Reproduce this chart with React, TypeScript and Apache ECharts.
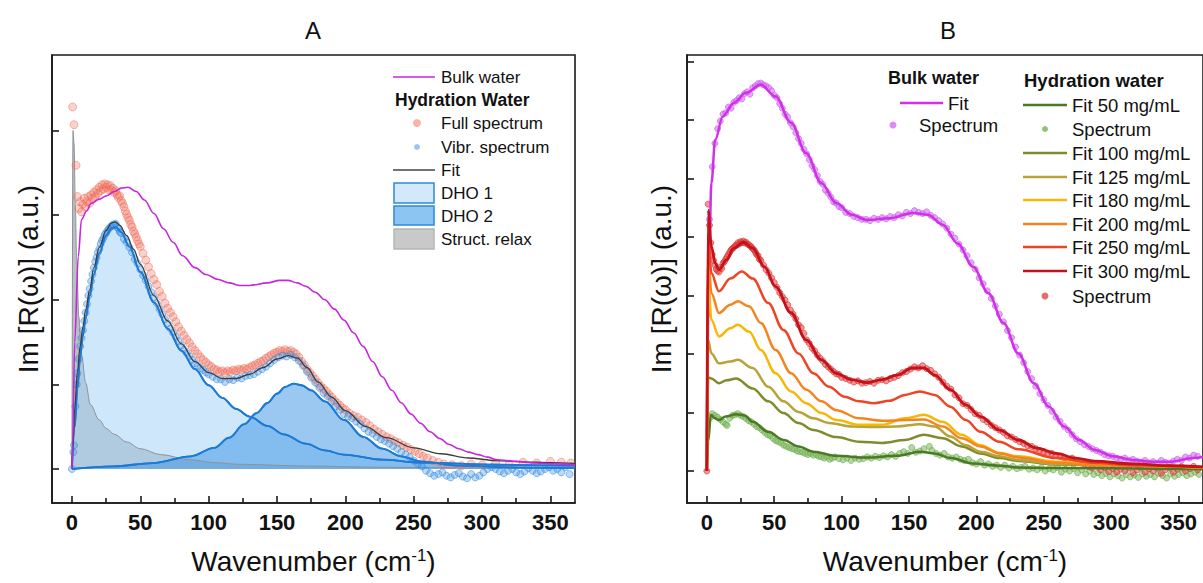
import React, { useEffect, useRef } from "react";
import * as echarts from "echarts";

const FONT = '"Liberation Sans", Arial, Helvetica, sans-serif';

// ---------- tick values ----------
const xTicks = [0, 50, 100, 150, 200, 250, 300, 350];
const xMinorTicks = [25, 75, 125, 175, 225, 275, 325];
const yTicksA = [0, 1, 2, 3, 4];
const yTicksB = [0, 1, 2, 3, 4, 5, 6, 7];

// ---------- Panel A ----------
const aBulkWater = [[0,0],[0.5,0.3],[2,1.5],[4.6,2.51],[7,2.95],[10.7,3.05],[14,3.14],[20,3.19],[25.4,3.23],[31,3.28],[36,3.32],[41,3.33],[47,3.28],[53,3.18],[60,3.02],[67,2.84],[74,2.68],[81,2.52],[90,2.38],[98,2.3],[107,2.24],[115,2.2],[123,2.17],[130,2.17],[143,2.2],[152,2.23],[158,2.23],[165,2.2],[171,2.16],[178,2.09],[185,2.0],[192,1.89],[199,1.76],[206,1.61],[213,1.45],[220,1.27],[227,1.09],[234,0.93],[241,0.78],[248,0.65],[255,0.54],[262,0.44],[269,0.36],[276,0.29],[283,0.24],[290,0.2],[297,0.17],[304,0.14],[311,0.11],[325,0.09],[339,0.07],[353,0.06],[368,0.05]];

const aFullSpectrum = [[0.5,4.28],[1.5,4.07],[3,3.59],[4,3.22],[5,3.08],[6,3.16],[7,3.04],[8,3.13],[9,3.2],[10,3.1],[11,3.16],[12,3.22],[13,3.14],[14,3.24],[15,3.2],[16,3.27],[17,3.22],[18,3.3],[19,3.26],[20,3.33],[21,3.29],[22,3.36],[23,3.31],[24,3.37],[25,3.33],[26,3.36],[27,3.3],[28,3.35],[29,3.3],[30,3.32],[31,3.27],[32,3.29],[33,3.24],[34,3.21],[35,3.23],[36,3.17],[37,3.14],[38,3.1],[39,3.05],[40,3.01],[41,2.97],[42,2.94],[43,2.89],[44,2.86],[45,2.81],[46,2.78],[47,2.74],[48,2.7],[49,2.66],[50,2.63],[52,2.55],[54,2.47],[56,2.39],[58,2.31],[60,2.24],[62,2.18],[64,2.1],[66,2.04],[68,1.96],[70,1.9],[72,1.85],[74,1.8],[76,1.74],[78,1.68],[80,1.63],[82,1.58],[84,1.53],[86,1.49],[88,1.44],[90,1.4],[92,1.36],[94,1.32],[96,1.29],[98,1.26],[100,1.23],[102,1.21],[104,1.18],[106,1.17],[108,1.15],[110,1.16],[112,1.14],[114,1.16],[116,1.15],[118,1.17],[120,1.16],[122,1.18],[124,1.17],[126,1.19],[128,1.18],[130,1.2],[132,1.22],[134,1.23],[136,1.25],[138,1.27],[140,1.28],[142,1.31],[144,1.33],[146,1.35],[148,1.37],[150,1.38],[152,1.4],[154,1.39],[156,1.41],[158,1.39],[160,1.4],[162,1.38],[164,1.36],[166,1.32],[168,1.27],[170,1.23],[172,1.18],[174,1.14],[176,1.1],[178,1.06],[180,1.02],[182,0.98],[184,0.95],[186,0.92],[188,0.88],[190,0.85],[192,0.81],[194,0.78],[196,0.75],[198,0.72],[200,0.7],[203,0.66],[206,0.63],[209,0.61],[212,0.58],[215,0.55],[218,0.51],[221,0.47],[224,0.44],[227,0.41],[230,0.38],[233,0.36],[236,0.33],[239,0.31],[242,0.28],[245,0.26],[248,0.23],[251,0.21],[254,0.18],[257,0.15],[260,0.13],[264,0.1],[268,0.08],[272,0.06],[278,0.05],[285,0.04],[292,0.06],[300,0.05],[310,0.07],[320,0.06],[330,0.08],[340,0.07],[350,0.09],[358,0.08],[365,0.07]];

const aVibrSpectrum = [[0,0],[1,0.2],[1.5,0.28],[2.5,0.74],[3.5,1.0],[4,1.13],[5,1.3],[6,1.45],[7,1.55],[8,1.64],[9,1.75],[10,1.85],[11,1.95],[12,2.05],[13,2.13],[14,2.22],[15,2.3],[16,2.38],[17,2.45],[18,2.5],[19,2.56],[20,2.6],[21,2.66],[22,2.7],[23,2.73],[24,2.77],[25,2.79],[26,2.82],[27,2.84],[28,2.86],[29,2.87],[30,2.89],[31,2.88],[32,2.9],[33,2.86],[34,2.84],[35,2.8],[36,2.79],[38,2.72],[40,2.68],[42,2.62],[44,2.56],[46,2.48],[48,2.43],[50,2.36],[52,2.29],[54,2.23],[56,2.16],[58,2.09],[60,2.03],[62,1.96],[64,1.89],[66,1.83],[68,1.77],[70,1.72],[72,1.66],[74,1.61],[76,1.56],[78,1.51],[80,1.46],[82,1.41],[84,1.37],[86,1.33],[88,1.29],[90,1.25],[92,1.22],[94,1.19],[96,1.17],[98,1.14],[100,1.12],[103,1.09],[106,1.06],[109,1.06],[112,1.03],[115,1.06],[118,1.05],[121,1.08],[124,1.07],[127,1.1],[130,1.11],[133,1.12],[136,1.15],[139,1.18],[142,1.21],[145,1.25],[148,1.29],[151,1.32],[154,1.34],[157,1.33],[160,1.35],[163,1.32],[166,1.28],[169,1.22],[172,1.15],[175,1.08],[178,1.02],[181,0.96],[184,0.9],[187,0.86],[190,0.8],[193,0.74],[196,0.7],[199,0.65],[202,0.62],[205,0.6],[208,0.56],[211,0.53],[214,0.48],[217,0.44],[220,0.42],[223,0.38],[226,0.35],[229,0.33],[232,0.3],[235,0.27],[238,0.24],[241,0.2],[244,0.17],[247,0.14],[250,0.1],[253,0.06],[256,0.03],[259,-0.02],[262,-0.05],[265,-0.08],[268,-0.06],[271,-0.04],[274,-0.08],[277,-0.1],[280,-0.07],[283,-0.05],[286,-0.09],[289,-0.11],[292,-0.06],[295,-0.1],[298,-0.08],[301,-0.04],[304,0.0],[307,0.02],[310,0.0],[313,-0.03],[316,-0.05],[319,-0.02],[322,0.0],[325,-0.04],[328,-0.06],[331,-0.03],[334,0.01],[337,-0.02],[340,-0.05],[343,-0.03],[346,0.0],[349,0.02],[352,-0.02],[355,0.0],[358,-0.04],[361,0.02],[364,-0.06]];

const aFit = [[0,0],[1,0.35],[2,0.72],[4,1.15],[6,1.45],[8,1.68],[10,1.88],[13,2.12],[16,2.38],[20,2.62],[25,2.82],[29,2.91],[32,2.92],[35,2.88],[40,2.76],[45,2.6],[50,2.42],[60,2.05],[70,1.75],[80,1.48],[90,1.27],[100,1.14],[110,1.07],[120,1.07],[130,1.12],[140,1.2],[150,1.3],[158,1.34],[165,1.31],[172,1.2],[180,1.03],[190,0.85],[200,0.69],[215,0.5],[230,0.37],[250,0.25],[270,0.18],[290,0.13],[310,0.1],[330,0.085],[350,0.075],[368,0.065]];

const aDHO1 = [[0,0],[2,0.5],[4,0.95],[6,1.32],[8,1.58],[10,1.78],[13,2.05],[16,2.3],[20,2.55],[25,2.76],[29,2.85],[32,2.86],[36,2.8],[42,2.63],[50,2.33],[60,1.97],[70,1.66],[80,1.4],[90,1.18],[100,0.99],[110,0.84],[120,0.71],[130,0.62],[143,0.51],[155,0.41],[171,0.3],[185,0.22],[199,0.17],[227,0.11],[255,0.075],[311,0.05],[368,0.04]];

const aDHO2 = [[0,0],[30,0.03],[59,0.07],[87,0.15],[104,0.25],[115,0.37],[126,0.53],[135,0.66],[143,0.78],[150,0.89],[156,0.97],[162,1.01],[168,0.99],[175,0.93],[185,0.8],[199,0.58],[213,0.38],[227,0.24],[241,0.15],[255,0.09],[283,0.04],[320,0.02],[368,0.01]];

const aStructRelax = [[0,0],[0.8,4.0],[1.5,3.85],[2.5,3.1],[3.4,2.5],[5,1.8],[7,1.35],[10,1.02],[13.5,0.76],[20,0.58],[25,0.48],[31,0.41],[40,0.32],[50,0.24],[65,0.17],[86,0.11],[105,0.075],[123,0.055],[171,0.035],[227,0.02],[300,0.012],[368,0.01]];

// ---------- Panel B ----------
const bBulkFit = [[0,0],[1,2.6],[3.4,4.92],[6.2,5.66],[11.8,6.06],[20,6.29],[28.7,6.46],[40,6.6],[51,6.4],[62.5,5.95],[73.7,5.43],[85,4.92],[96,4.58],[107.5,4.38],[118.7,4.29],[135.6,4.32],[152.5,4.41],[163.8,4.38],[175,4.21],[186,3.89],[197.5,3.49],[208.8,3.04],[220,2.53],[231,2.01],[242.5,1.5],[253.8,1.1],[265,0.76],[276,0.53],[287.6,0.36],[301.6,0.25],[315.7,0.19],[329.8,0.16],[344,0.16],[361,0.22],[368,0.24]];

const bBulkSpectrum = [[2,4.3],[4,5.2],[6,5.6],[8,5.85],[10,5.98],[12,6.1],[14,6.12],[16,6.22],[18,6.2],[20,6.3],[22,6.33],[24,6.38],[26,6.36],[28,6.45],[30,6.48],[32,6.44],[34,6.55],[36,6.58],[38,6.62],[40,6.63],[42,6.6],[44,6.58],[46,6.55],[48,6.5],[50,6.42],[52,6.38],[54,6.28],[56,6.2],[58,6.1],[60,6.05],[62,5.95],[64,5.88],[66,5.78],[68,5.68],[70,5.6],[72,5.5],[74,5.42],[76,5.32],[78,5.22],[80,5.15],[82,5.05],[84,4.95],[86,4.9],[88,4.8],[90,4.75],[92,4.68],[94,4.6],[96,4.58],[98,4.52],[100,4.5],[103,4.42],[106,4.4],[109,4.35],[112,4.33],[115,4.3],[118,4.3],[121,4.28],[124,4.32],[127,4.3],[130,4.33],[133,4.31],[136,4.35],[139,4.33],[142,4.38],[145,4.36],[148,4.42],[151,4.4],[154,4.45],[157,4.42],[160,4.4],[163,4.43],[166,4.37],[169,4.33],[172,4.28],[175,4.22],[178,4.15],[181,4.05],[184,3.98],[187,3.88],[190,3.78],[193,3.68],[196,3.56],[199,3.45],[202,3.3],[205,3.2],[208,3.08],[211,2.95],[214,2.82],[217,2.68],[220,2.55],[223,2.4],[226,2.28],[229,2.12],[232,1.98],[235,1.85],[238,1.7],[241,1.58],[244,1.45],[247,1.32],[250,1.22],[253,1.12],[256,1.02],[259,0.92],[262,0.85],[265,0.76],[268,0.7],[271,0.62],[274,0.55],[277,0.5],[280,0.45],[283,0.42],[286,0.38],[289,0.35],[292,0.32],[295,0.28],[298,0.26],[301,0.25],[304,0.22],[307,0.2],[310,0.22],[313,0.18],[316,0.2],[319,0.17],[322,0.15],[325,0.18],[328,0.14],[331,0.16],[334,0.13],[337,0.18],[340,0.15],[343,0.12],[346,0.17],[349,0.2],[352,0.18],[355,0.24],[358,0.22],[361,0.27],[364,0.25]];

const bFit50 = [[0,0],[1,0.5],[3,0.96],[6,0.9],[9,0.87],[14,0.93],[21.7,0.97],[28,0.95],[34,0.84],[45.6,0.67],[57,0.53],[68,0.42],[79,0.33],[96,0.26],[118,0.23],[141,0.26],[158,0.33],[169,0.3],[181,0.22],[197,0.13],[217,0.09],[231,0.06],[259,0.05],[368,0.03]];
const bFit100 = [[0,0],[1,1.6],[3.4,1.58],[9,1.5],[14.6,1.55],[21.7,1.58],[34,1.41],[45.6,1.19],[56.8,0.99],[68,0.82],[79,0.7],[96,0.58],[113,0.5],[130,0.48],[147,0.53],[161,0.62],[175,0.56],[189,0.42],[203,0.3],[217,0.22],[231,0.17],[259,0.11],[368,0.06]];
const bFit125 = [[0,0],[1,2.24],[3.4,2.01],[9,1.84],[17.4,1.87],[23,1.9],[34,1.76],[45.6,1.44],[56.8,1.19],[68,1.01],[79,0.9],[90.6,0.82],[107.5,0.76],[124,0.75],[141,0.76],[158,0.8],[169,0.76],[180.6,0.59],[192,0.44],[203,0.33],[217,0.25],[231,0.19],[259,0.12],[368,0.06]];
const bFit180 = [[0,0],[1,3.27],[3.4,2.58],[9,2.3],[17.4,2.44],[23,2.5],[31.5,2.38],[40,2.07],[51,1.67],[62.5,1.36],[73.7,1.16],[85,0.99],[96,0.87],[113,0.79],[130,0.79],[147,0.9],[161,0.96],[175,0.84],[189,0.62],[203,0.44],[217,0.31],[231,0.25],[259,0.16],[287.6,0.11],[368,0.06]];
const bFit200 = [[0,0],[1,3.72],[3.4,3.04],[9,2.7],[17.4,2.84],[23,2.9],[31.5,2.81],[40,2.53],[51,2.07],[62.5,1.67],[73.7,1.39],[85,1.19],[96,1.04],[113,0.9],[130,0.86],[147,0.87],[161,0.88],[175,0.76],[189,0.56],[203,0.42],[217,0.3],[231,0.23],[259,0.14],[287.6,0.1],[368,0.06]];
const bFit250 = [[0,0],[1,4.06],[3.4,3.38],[9,3.07],[17.4,3.29],[26,3.41],[34,3.29],[45.6,2.87],[56.8,2.41],[68,2.01],[79,1.67],[90.6,1.44],[102,1.27],[113,1.19],[124,1.16],[135.6,1.2],[147,1.3],[158,1.36],[169,1.3],[180.6,1.1],[192,0.87],[203,0.67],[217,0.5],[231,0.37],[259,0.22],[287.6,0.14],[315.7,0.1],[368,0.07]];
const bFit300 = [[0,0],[1,4.46],[3.4,3.84],[6.2,3.55],[9,3.44],[14.6,3.61],[20,3.81],[27.3,3.91],[34,3.81],[42.8,3.49],[51,3.15],[62.5,2.7],[73.7,2.24],[85,1.9],[96,1.67],[107.5,1.56],[118.7,1.51],[130,1.56],[141,1.64],[152.5,1.76],[161,1.76],[169,1.64],[180.6,1.39],[192,1.13],[203,0.93],[217,0.7],[231,0.53],[245,0.39],[259,0.3],[273.5,0.22],[287.6,0.17],[315.7,0.12],[344,0.09],[368,0.07]];

const bSpectrum50 = [[2,0.9],[4,0.98],[6,0.95],[8,0.92],[10,0.88],[12,0.84],[14,0.8],[15,0.78],[17,0.9],[19,0.95],[21,0.96],[23,0.98],[25,0.95],[27,0.93],[29,0.9],[31,0.86],[33,0.84],[35,0.8],[37,0.76],[39,0.74],[41,0.7],[43,0.66],[45,0.62],[47,0.6],[49,0.56],[51,0.52],[53,0.5],[55,0.48],[57,0.44],[59,0.42],[61,0.4],[63,0.38],[65,0.37],[67,0.34],[69,0.33],[71,0.32],[73,0.3],[75,0.28],[77,0.3],[79,0.27],[81,0.28],[83,0.25],[85,0.24],[87,0.22],[89,0.24],[91,0.2],[93,0.22],[95,0.24],[98,0.21],[101,0.19],[104,0.22],[107,0.18],[110,0.22],[113,0.2],[116,0.21],[119,0.24],[122,0.22],[125,0.25],[128,0.23],[131,0.26],[134,0.24],[137,0.28],[140,0.25],[143,0.3],[146,0.33],[149,0.3],[152,0.4],[155,0.32],[158,0.34],[161,0.38],[165,0.42],[167,0.35],[170,0.3],[173,0.27],[176,0.3],[179,0.24],[182,0.22],[185,0.24],[188,0.2],[191,0.18],[194,0.2],[197,0.14],[200,0.12],[203,0.16],[206,0.1],[209,0.12],[212,0.08],[215,0.1],[218,0.06],[221,0.1],[224,0.05],[227,0.08],[230,0.04],[233,0.06],[236,0.08],[239,0.03],[242,0.05],[245,0.02],[248,0.06],[251,0.0],[254,0.04],[257,0.02],[260,0.06],[263,-0.02],[266,0.03],[269,0.0],[272,0.04],[275,-0.03],[278,0.02],[281,-0.05],[284,0.0],[287,-0.06],[290,-0.03],[293,-0.08],[296,-0.04],[299,-0.1],[302,-0.05],[305,-0.08],[308,-0.12],[311,-0.06],[314,-0.1],[317,-0.07],[320,-0.11],[323,-0.05],[326,-0.09],[329,-0.06],[332,-0.1],[335,-0.04],[338,-0.08],[341,-0.12],[344,-0.05],[347,-0.09],[350,-0.06],[353,-0.03],[356,-0.08],[359,-0.05],[362,-0.02],[365,-0.06]];

const bSpectrum300 = [[0,0],[1,4.56],[2,4.2],[3,3.9],[4,3.7],[5,3.6],[6,3.52],[7,3.45],[8,3.42],[9,3.4],[10,3.48],[11,3.46],[12,3.55],[13,3.58],[14,3.62],[15,3.66],[16,3.7],[17,3.74],[18,3.78],[19,3.8],[20,3.82],[21,3.85],[22,3.86],[23,3.9],[24,3.88],[25,3.92],[26,3.9],[27,3.93],[28,3.9],[29,3.91],[30,3.88],[31,3.87],[32,3.85],[33,3.83],[34,3.8],[35,3.78],[36,3.74],[37,3.7],[38,3.68],[39,3.62],[40,3.6],[42,3.52],[44,3.44],[46,3.38],[48,3.3],[50,3.22],[52,3.14],[54,3.05],[56,2.98],[58,2.92],[60,2.84],[62,2.75],[64,2.68],[66,2.6],[68,2.5],[70,2.45],[72,2.35],[74,2.24],[76,2.18],[78,2.1],[80,2.05],[82,1.98],[84,1.93],[86,1.88],[88,1.82],[90,1.78],[92,1.74],[94,1.7],[96,1.66],[98,1.65],[100,1.6],[103,1.58],[106,1.55],[109,1.52],[112,1.54],[115,1.5],[118,1.51],[121,1.53],[124,1.5],[127,1.55],[130,1.56],[133,1.54],[136,1.58],[139,1.6],[142,1.63],[145,1.68],[148,1.7],[151,1.74],[154,1.78],[157,1.76],[160,1.8],[163,1.75],[166,1.72],[169,1.66],[172,1.6],[175,1.52],[178,1.45],[181,1.4],[184,1.3],[187,1.25],[190,1.15],[193,1.12],[196,1.05],[199,0.98],[202,0.95],[205,0.88],[208,0.84],[211,0.78],[214,0.74],[217,0.7],[220,0.66],[223,0.6],[226,0.58],[229,0.54],[232,0.5],[235,0.47],[238,0.43],[241,0.42],[244,0.38],[247,0.35],[250,0.33],[253,0.3],[256,0.3],[259,0.27],[262,0.25],[265,0.22],[268,0.2],[271,0.22],[274,0.18],[277,0.16],[280,0.12],[283,0.08],[286,0.05],[289,0.09],[292,0.02],[295,0.06],[298,-0.01],[301,0.04],[304,-0.02],[307,0.03],[310,0.0],[313,0.05],[316,-0.03],[319,0.02],[322,0.06],[325,-0.02],[328,0.04],[331,0.0],[334,0.05],[337,-0.04],[340,0.02],[343,0.06],[346,-0.02],[349,0.03],[352,0.07],[355,0.0],[358,0.04],[361,0.08],[364,0.02]];

// ---------- styling constants ----------
const C = {
  bulkA: "#c726de",
  full: "rgba(243,120,100,0.42)",
  fullBorder: "rgba(232,100,80,0.55)",
  vibr: "rgba(70,150,230,0.45)",
  vibrBorder: "rgba(40,130,220,0.6)",
  fitA: "#3d3d3d",
  dho: "#1b7ad6",
  dho1Fill: "rgba(168,212,246,0.55)",
  dho2Fill: "rgba(55,145,228,0.5)",
  structFill: "rgba(120,128,138,0.5)",
  structLine: "#8c9299",
  bulkB: "#d22fea",
  bulkDots: "rgba(210,110,240,0.75)",
  g50: "#4c7a24",
  g50Dots: "rgba(125,185,95,0.7)",
  g100: "#7f8b2c",
  g125: "#b8a338",
  g180: "#f6b705",
  g200: "#f5841f",
  g250: "#ee4524",
  g300: "#c5121a",
  redDots: "rgba(228,70,70,0.7)",
};

function lineSeries(data: number[][], color: string, width: number, xi: number, yi: number, area?: string, z = 2) {
  return {
    type: "line",
    data,
    xAxisIndex: xi,
    yAxisIndex: yi,
    showSymbol: false,
    symbol: "none",
    smooth: 0.35,
    smoothMonotone: "x",
    lineStyle: { color, width },
    areaStyle: area ? { color: area, opacity: 1 } : undefined,
    silent: true,
    z,
  };
}

function scatterSeries(data: number[][], color: string, border: string, size: number, xi: number, yi: number, z = 3) {
  return {
    type: "scatter",
    data,
    xAxisIndex: xi,
    yAxisIndex: yi,
    symbolSize: size,
    itemStyle: { color, borderColor: border, borderWidth: 1 },
    silent: true,
    z,
  };
}

function xAxes(grid: number, min: number, max: number) {
  const line = { color: "#1a1a1a", width: 1.6 };
  return [
    {
      type: "value",
      gridIndex: grid,
      min,
      max,
      position: "bottom",
      axisLine: { show: true, onZero: false, lineStyle: line },
      axisTick: { show: true, inside: true, length: 7, customValues: xTicks, lineStyle: line },
      axisLabel: { show: true, customValues: xTicks, fontSize: 22, fontWeight: "bold", color: "#111", fontFamily: FONT, margin: 8 },
      splitLine: { show: false },
      name: "Wavenumber (cm{sup|-1})",
      nameLocation: "middle",
      nameGap: 44,
      nameTextStyle: {
        fontSize: 28,
        color: "#111",
        fontFamily: FONT,
        rich: { sup: { fontSize: 17, verticalAlign: "top", color: "#111", fontFamily: FONT } },
      },
      z: 10,
    },
    {
      type: "value",
      gridIndex: grid,
      min,
      max,
      position: "bottom",
      axisLine: { show: false, onZero: false },
      axisTick: { show: true, inside: true, length: 5, customValues: xMinorTicks, lineStyle: line },
      axisLabel: { show: false },
      splitLine: { show: false },
      z: 10,
    },
  ];
}

function yAxis(grid: number, min: number, max: number, ticks: number[], gap: number) {
  const line = { color: "#1a1a1a", width: 1.6 };
  return {
    type: "value",
    gridIndex: grid,
    min,
    max,
    axisLine: { show: true, onZero: false, lineStyle: line },
    axisTick: { show: true, inside: true, length: 7, customValues: ticks, lineStyle: line },
    axisLabel: { show: false },
    splitLine: { show: false },
    name: "Im [R(ω)] (a.u.)",
    nameLocation: "middle",
    nameGap: gap,
    nameTextStyle: { fontSize: 28, color: "#111", fontFamily: FONT },
  };
}

function txt(x: number, y: number, text: string, size: number, bold = false, align = "left") {
  return {
    type: "text",
    x,
    y,
    silent: true,
    z: 50,
    style: {
      text,
      fill: "#111",
      fontSize: size,
      fontFamily: FONT,
      fontWeight: bold ? "bold" : "normal",
      align,
      verticalAlign: "middle",
    },
  };
}
function lgLine(x1: number, x2: number, y: number, color: string, w = 2) {
  return { type: "line", silent: true, z: 50, shape: { x1, y1: y, x2, y2: y }, style: { stroke: color, lineWidth: w } };
}
function lgDot(cx: number, cy: number, r: number, fill: string) {
  return { type: "circle", silent: true, z: 50, shape: { cx, cy, r }, style: { fill } };
}
function lgRect(x: number, y: number, w: number, h: number, fill: string, stroke: string) {
  return { type: "rect", silent: true, z: 50, shape: { x, y, width: w, height: h }, style: { fill, stroke, lineWidth: 1.5 } };
}

const legendA = [
  lgLine(393, 435, 77, C.bulkA, 1.6),
  txt(441, 77, "Bulk water", 17),
  txt(395, 100, "Hydration Water", 17.5, true),
  lgDot(417, 123, 4, "rgba(243,130,110,0.6)"),
  txt(441, 123, "Full spectrum", 17),
  lgDot(417, 147, 3, "rgba(90,160,230,0.6)"),
  txt(441, 147, "Vibr. spectrum", 17),
  lgLine(393, 435, 170, "#444", 1.4),
  txt(441, 170, "Fit", 17),
  lgRect(394, 183, 40, 20, "#d3e9fb", "#2a8ae0"),
  txt(441, 193, "DHO 1", 17),
  lgRect(394, 206, 40, 19, "#8cc4f2", "#2a8ae0"),
  txt(441, 216, "DHO 2", 17),
  lgRect(394, 229, 40, 20, "#c9c9c9", "#b5b5b5"),
  txt(441, 239, "Struct. relax", 17),
];

const hydrRows: [string, string][] = [
  ["Fit 50 mg/mL", C.g50],
  ["Spectrum", "dot-green"],
  ["Fit 100 mg/mL", C.g100],
  ["Fit 125 mg/mL", C.g125],
  ["Fit 180 mg/mL", C.g180],
  ["Fit 200 mg/mL", C.g200],
  ["Fit 250 mg/mL", C.g250],
  ["Fit 300 mg/mL", C.g300],
  ["Spectrum", "dot-red"],
];
const hydrY = [105, 129, 153, 177, 200, 224, 247, 271, 296];

const legendB: any[] = [
  txt(888, 78, "Bulk water", 18, true),
  lgLine(900, 943, 103, C.bulkB, 2.5),
  txt(948, 103, "Fit", 18.5),
  lgDot(893, 125, 3.5, "rgba(210,110,240,0.8)"),
  txt(919, 125, "Spectrum", 18.5),
  txt(1024, 80, "Hydration water", 18.5, true),
];
hydrRows.forEach(([label, col], i) => {
  const y = hydrY[i];
  if (col === "dot-green") legendB.push(lgDot(1045, y, 3, "rgba(125,185,95,0.85)"));
  else if (col === "dot-red") legendB.push(lgDot(1045, y, 3.5, "rgba(228,70,70,0.8)"));
  else legendB.push(lgLine(1023, 1067, y, col, 2.5));
  legendB.push(txt(1072, y, label, 18.5));
});

const option: any = {
  animation: false,
  backgroundColor: "#ffffff",
  textStyle: { fontFamily: FONT },
  grid: [
    { left: 52, top: 55, width: 523, height: 448, show: true, borderColor: "#1a1a1a", borderWidth: 1.6, backgroundColor: "transparent", containLabel: false },
    { left: 687, top: 55, width: 522, height: 448, show: true, borderColor: "#1a1a1a", borderWidth: 1.6, backgroundColor: "transparent", containLabel: false },
  ],
  xAxis: [...xAxes(0, -14.6, 368), ...xAxes(1, -14.7, 368)],
  yAxis: [yAxis(0, -0.402, 4.894, yTicksA, 10), yAxis(1, -0.547, 7.11, yTicksB, 12)],
  series: [
    // Panel A
    lineSeries(aStructRelax, C.structLine, 1, 0, 0, C.structFill, 1),
    lineSeries(aDHO1, C.dho, 1.8, 0, 0, C.dho1Fill, 1),
    lineSeries(aDHO2, C.dho, 1.8, 0, 0, C.dho2Fill, 1),
    scatterSeries(aFullSpectrum, C.full, C.fullBorder, 8, 0, 0),
    scatterSeries(aVibrSpectrum, C.vibr, C.vibrBorder, 7, 0, 0),
    lineSeries(aDHO1, C.dho, 1.8, 0, 0, undefined, 4),
    lineSeries(aDHO2, C.dho, 1.8, 0, 0, undefined, 4),
    lineSeries(aFit, C.fitA, 1.3, 0, 0, undefined, 5),
    lineSeries(aBulkWater, C.bulkA, 1.6, 0, 0, undefined, 5),
    // Panel B
    scatterSeries(bBulkSpectrum, C.bulkDots, "rgba(200,90,235,0.8)", 6, 2, 1),
    lineSeries(bBulkFit, C.bulkB, 2.5, 2, 1, undefined, 4),
    scatterSeries(bSpectrum50, C.g50Dots, "rgba(110,170,80,0.8)", 6, 2, 1),
    scatterSeries(bSpectrum300, C.redDots, "rgba(215,50,50,0.8)", 6, 2, 1),
    lineSeries(bFit50, C.g50, 2.5, 2, 1, undefined, 4),
    lineSeries(bFit100, C.g100, 2.5, 2, 1, undefined, 4),
    lineSeries(bFit125, C.g125, 2.5, 2, 1, undefined, 4),
    lineSeries(bFit180, C.g180, 2.5, 2, 1, undefined, 4),
    lineSeries(bFit200, C.g200, 2.5, 2, 1, undefined, 4),
    lineSeries(bFit250, C.g250, 2.5, 2, 1, undefined, 4),
    lineSeries(bFit300, C.g300, 2.8, 2, 1, undefined, 5),
  ],
  graphic: [
    txt(313, 30, "A", 24, false, "center"),
    txt(948, 30, "B", 24, false, "center"),
    ...legendA,
    ...legendB,
  ],
};

export default function App() {
  const ref = useRef<HTMLDivElement>(null);
  useEffect(() => {
    if (!ref.current) return;
    const chart = echarts.init(ref.current, null, { renderer: "svg" });
    chart.setOption(option);
    return () => chart.dispose();
  }, []);
  return (
    <div
      ref={ref}
      style={{ position: "fixed", left: 0, top: 0, width: 1203, height: 583, background: "#fff" }}
    />
  );
}
